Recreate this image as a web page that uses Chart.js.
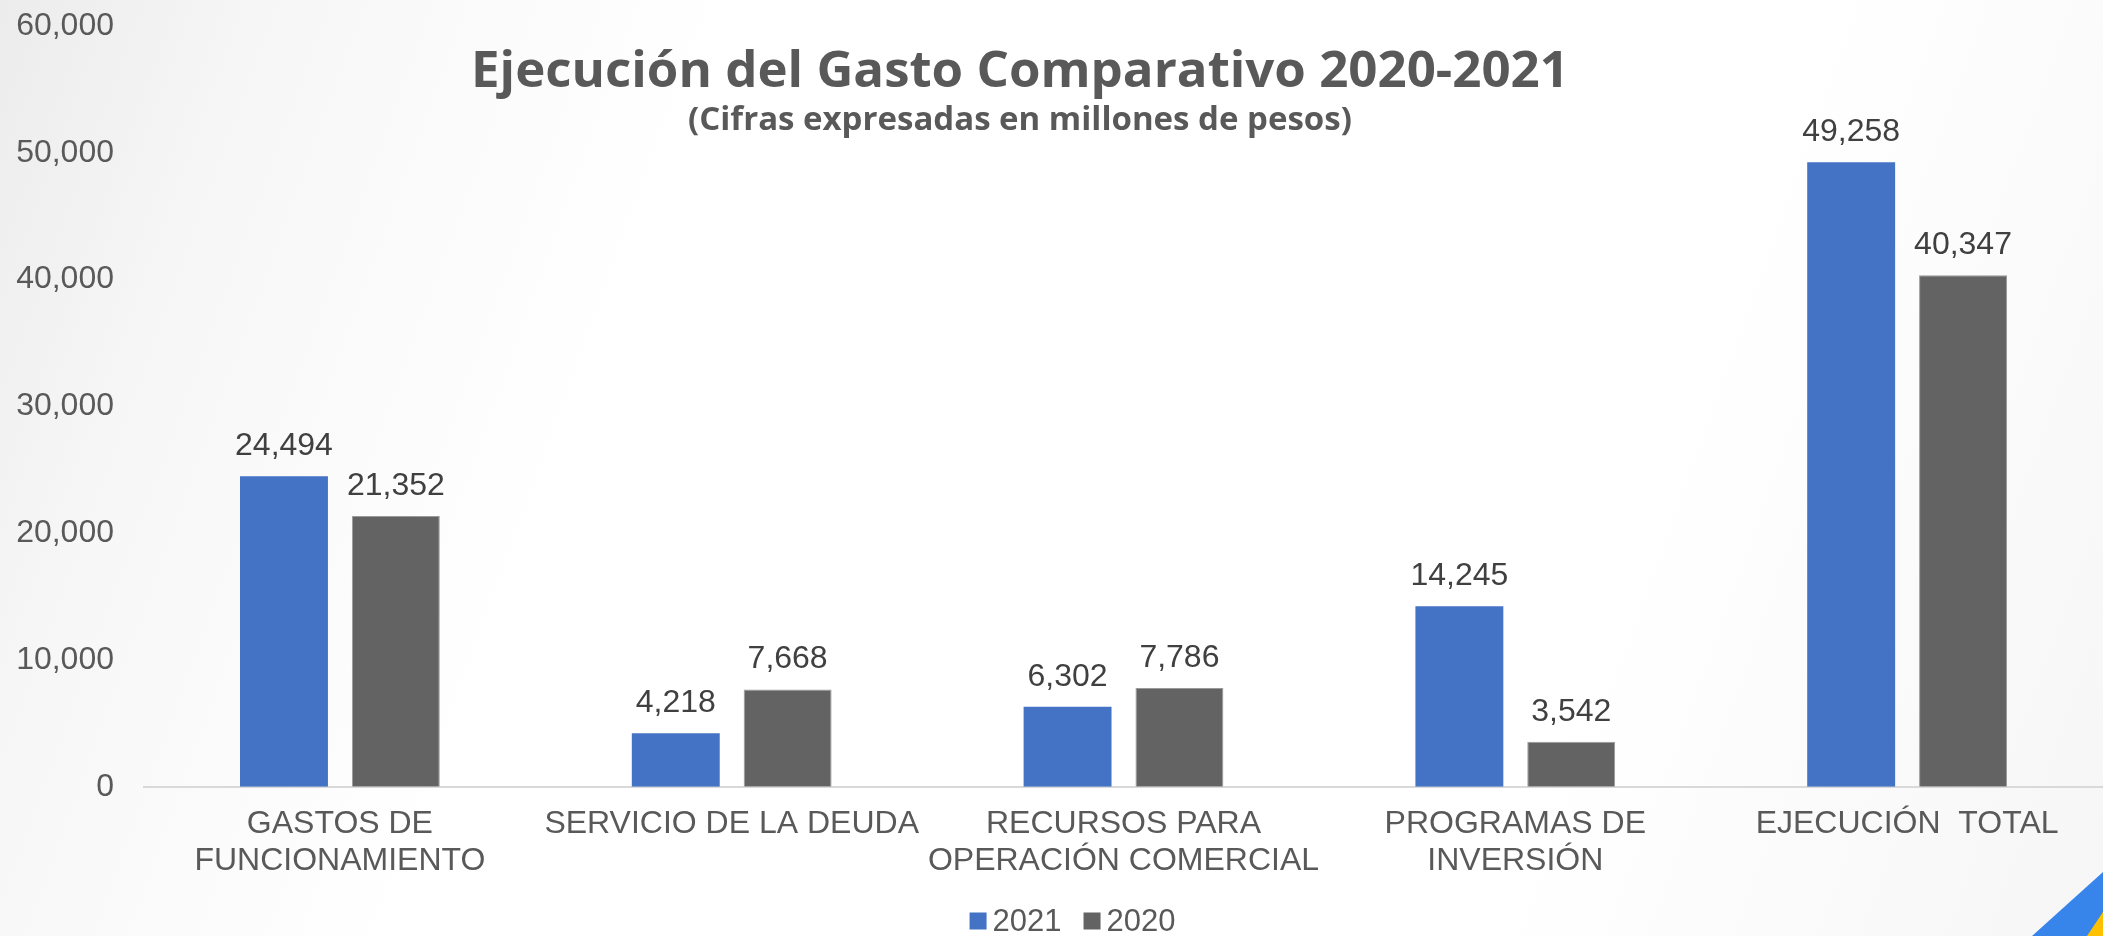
<!DOCTYPE html>
<html lang="es">
<head>
<meta charset="utf-8">
<title>Ejecución del Gasto Comparativo 2020-2021</title>
<script src="https://cdn.jsdelivr.net/npm/chart.js@4.4.1/dist/chart.umd.min.js"></script>
<style>
  html, body {
    margin: 0;
    padding: 0;
    width: 2103px;
    height: 936px;
    overflow: hidden;
  }
  body {
    background: linear-gradient(110deg, #ececec 0%, #f7f7f7 12%, #ffffff 30%, #ffffff 75%, #f6f6f6 100%);
  }
  .wrap {
    position: relative;
    width: 2103px;
    height: 936px;
  }
  .corner {
    position: absolute;
    right: 0;
    bottom: 0;
    width: 80px;
    height: 70px;
  }
</style>
</head>
<body>
<div class="wrap">
  <canvas id="gastoChart" width="2103" height="936"></canvas>
  <svg class="corner" viewBox="0 0 80 70">
    <polygon points="9,70 80,6 80,70" fill="#3784ea"/>
    <polygon points="64,70 80,46 80,70" fill="#ffc000"/>
  </svg>
</div>
<script>
// rubros del gasto (millones de pesos)
const categorias = [
  ["GASTOS DE", "FUNCIONAMIENTO"],
  "SERVICIO DE LA DEUDA",
  ["RECURSOS PARA", "OPERACIÓN COMERCIAL"],
  ["PROGRAMAS DE", "INVERSIÓN"],
  "EJECUCIÓN  TOTAL"
];
const gasto2021 = [24494, 4218, 6302, 14245, 49258];
const gasto2020 = [21352, 7668, 7786, 3542, 40347];
const ticksY = [0, 10000, 20000, 30000, 40000, 50000, 60000];

const titulo = "Ejecución del Gasto Comparativo 2020-2021";
const subtitulo = "(Cifras expresadas en millones de pesos)";

const fuente = "'Liberation Sans', Arial, sans-serif";
const fmt = (v) => v.toLocaleString("en-US");

// titulo dibujado encima del area del grafico
const tituloPlugin = {
  id: "tituloGasto",
  afterDraw(chart) {
    const ctx = chart.ctx;
    const cx = chart.width * 0.485;
    ctx.save();
    ctx.fillStyle = "#595959";
    ctx.textAlign = "center";
    ctx.textBaseline = "middle";
    ctx.font = "bold 51px 'Open Sans', sans-serif";
    ctx.fillText(titulo, cx, 72);
    ctx.font = "bold 33px 'Open Sans', sans-serif";
    ctx.fillText(subtitulo, cx, 121);
    ctx.restore();
  }
};

// etiquetas de valor sobre cada barra
const valoresPlugin = {
  id: "valoresBarras",
  afterDatasetsDraw(chart) {
    const ctx = chart.ctx;
    ctx.save();
    ctx.fillStyle = "#404040";
    ctx.textAlign = "center";
    ctx.textBaseline = "middle";
    ctx.font = "32px " + fuente;
    chart.data.datasets.forEach((ds, i) => {
      chart.getDatasetMeta(i).data.forEach((bar, j) => {
        ctx.fillText(fmt(ds.data[j]), bar.x, bar.y - 30);
      });
    });
    ctx.restore();
  }
};

// leyenda compacta al pie: cuadro de color + año
const leyendaPlugin = {
  id: "leyendaPie",
  afterDraw(chart) {
    const ctx = chart.ctx;
    const caja = 17, sep = 6, entre = 22;
    const y = chart.height - 15;
    ctx.save();
    ctx.font = "31px " + fuente;
    ctx.textBaseline = "middle";
    const items = chart.data.datasets.map((ds) => ({
      texto: ds.label,
      color: ds.backgroundColor,
      ancho: caja + sep + ctx.measureText(ds.label).width
    }));
    const total = items.reduce((s, it) => s + it.ancho, 0) + entre * (items.length - 1);
    let x = chart.width * 0.51 - total / 2;
    items.forEach((it) => {
      ctx.fillStyle = it.color;
      ctx.fillRect(x, y - caja / 2, caja, caja);
      ctx.fillStyle = "#595959";
      ctx.textAlign = "left";
      ctx.fillText(it.texto, x + caja + sep, y + 1);
      x += it.ancho + entre;
    });
    ctx.restore();
  }
};

function createGastoChart() {
  const ctx = document.getElementById("gastoChart").getContext("2d");
  return new Chart(ctx, {
    type: "bar",
    data: {
      labels: categorias,
      datasets: [
        {
          label: "2021",
          data: gasto2021,
          backgroundColor: "#4472c4",
          borderWidth: 0
        },
        {
          label: "2020",
          data: gasto2020,
          backgroundColor: "#636363",
          borderColor: "#9a9a9a",
          borderWidth: 1
        }
      ]
    },
    options: {
      responsive: false,
      animation: false,
      layout: {
        padding: { top: 26, right: 0, bottom: 37, left: 0 }
      },
      datasets: {
        bar: {
          categoryPercentage: 0.571,
          barPercentage: 0.786
        }
      },
      scales: {
        x: {
          grid: { display: false, drawTicks: false },
          border: { display: true, color: "#d9d9d9", width: 2 },
          ticks: {
            color: "#595959",
            padding: 19,
            maxRotation: 0,
            autoSkip: false,
            font: { family: fuente, size: 32, lineHeight: 1.16 }
          }
        },
        y: {
          min: ticksY[0],
          max: ticksY[ticksY.length - 1],
          afterFit(scale) {
            scale.width = 144;
            scale.paddingTop = 0;
            scale.paddingBottom = 0;
          },
          afterBuildTicks(scale) { scale.ticks = ticksY.map((v) => ({ value: v })); },
          grid: { display: false, drawTicks: false },
          border: { display: false },
          ticks: {
            color: "#595959",
            padding: 30,
            callback: (v) => fmt(v),
            font: { family: fuente, size: 32 }
          }
        }
      },
      plugins: {
        legend: { display: false },
        tooltip: { enabled: false }
      }
    },
    plugins: [tituloPlugin, valoresPlugin, leyendaPlugin]
  });
}

createGastoChart();
</script>
</body>
</html>
